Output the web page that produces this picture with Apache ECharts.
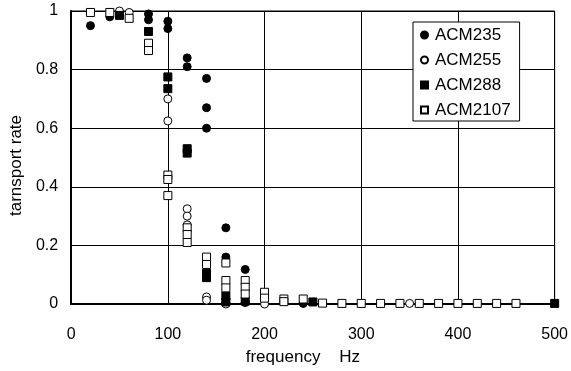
<!DOCTYPE html>
<html>
<head>
<meta charset="utf-8">
<script src="https://cdn.jsdelivr.net/npm/echarts@6/dist/echarts.min.js"></script>
<style>
html, body { margin: 0; padding: 0; background: #fff; }
#chart { width: 571px; height: 371px; }
</style>
</head>
<body>
<div id="chart"></div>
<script>
// data: [frequency Hz, transport rate]
var acm235 = [[20,0.95],[40,0.98],[80,0.99],[80,0.97],[100,0.965],[100,0.94],[120,0.84],[120,0.81],
    [140,0.77],[140,0.67],[140,0.60],[160,0.26],[160,0.16],[160,0.005],[180,0.118],[180,0.005],[240,0.002]];
var acm255 = [[50,1.0],[60,0.995],[100,0.70],[100,0.625],[120,0.325],[120,0.30],[120,0.27],
    [140,0.024],[140,0.013],[160,0.0],[200,0.0],[350,0.002]];
var acm288 = [[50,0.985],[80,0.93],[100,0.775],[100,0.735],[120,0.53],[120,0.515],[140,0.105],[140,0.09],
    [160,0.027],[160,0.007],[180,0.01],[250,0.007],[500,0.002]];
var acm2107 = [[20,0.995],[40,0.995],[60,0.975],[80,0.89],[80,0.865],[100,0.44],[100,0.425],[100,0.37],
    [120,0.26],[120,0.237],[120,0.21],[140,0.16],[140,0.135],[160,0.14],[160,0.08],[160,0.055],
    [180,0.08],[180,0.057],[180,0.034],[200,0.04],[200,0.02],[220,0.017],[220,0.008],[240,0.017],
    [260,0.003],[280,0.002],[300,0.002],[320,0.002],[340,0.002],[360,0.002],[380,0.002],[400,0.002],
    [420,0.002],[440,0.002],[460,0.002]];
var seriesNames = ['ACM235', 'ACM255', 'ACM288', 'ACM2107'];

var font = 'Liberation Sans, Arial, sans-serif';
var myChart = echarts.init(document.getElementById('chart'));

function mk(name, data, symbol, filled) {
    return {
        name: name,
        type: 'scatter',
        data: data,
        symbol: symbol,
        symbolSize: 8,
        itemStyle: {
            color: filled ? '#000' : '#fff',
            borderColor: '#000',
            borderWidth: 1,
            opacity: 1
        },
        emphasis: {disabled: true}
    };
}

var options = {
    backgroundColor: '#fff',
    animation: false,
    textStyle: {fontFamily: font, color: '#000'},
    grid: {
        left: 70, right: 14, top: 11, bottom: 64,
        show: true, borderColor: '#000', borderWidth: 1
    },
    legend: {
        orient: 'vertical',
        left: 413, top: 22,
        padding: [3, 9, 1, 7],
        itemGap: 5,
        itemWidth: 7, itemHeight: 7,
        backgroundColor: '#fff',
        borderColor: '#000',
        borderWidth: 1,
        borderRadius: 0,
        textStyle: {fontFamily: font, fontSize: 17, lineHeight: 20, color: '#000', padding: [0, 0, 0, 2]},
        data: seriesNames
    },
    xAxis: {
        type: 'value',
        min: 0, max: 500, interval: 100,
        name: 'frequency    Hz',
        nameLocation: 'middle',
        nameGap: 45,
        nameTextStyle: {fontFamily: font, fontSize: 17, color: '#000', padding: [0, 20, 0, 0]},
        axisLine: {show: true, lineStyle: {color: '#000', width: 2}},
        axisTick: {show: false},
        axisLabel: {fontFamily: font, fontSize: 16, color: '#000', margin: 23},
        splitLine: {show: true, lineStyle: {color: '#000', width: 1}}
    },
    yAxis: {
        type: 'value',
        min: 0, max: 1, interval: 0.2,
        name: 'tarnsport rate',
        nameLocation: 'middle',
        nameGap: 45,
        nameTextStyle: {fontFamily: font, fontSize: 17, color: '#000', padding: [0, 16, 0, 0]},
        axisLine: {show: true, lineStyle: {color: '#000', width: 2}},
        axisTick: {show: false},
        axisLabel: {fontFamily: font, fontSize: 16, color: '#000', margin: 13},
        splitLine: {show: true, lineStyle: {color: '#000', width: 1}}
    },
    series: [
        mk(seriesNames[0], acm235, 'circle', true),
        mk(seriesNames[1], acm255, 'circle', false),
        mk(seriesNames[2], acm288, 'rect', true),
        mk(seriesNames[3], acm2107, 'rect', false)
    ]
};

myChart.setOption(options);
</script>
</body>
</html>
